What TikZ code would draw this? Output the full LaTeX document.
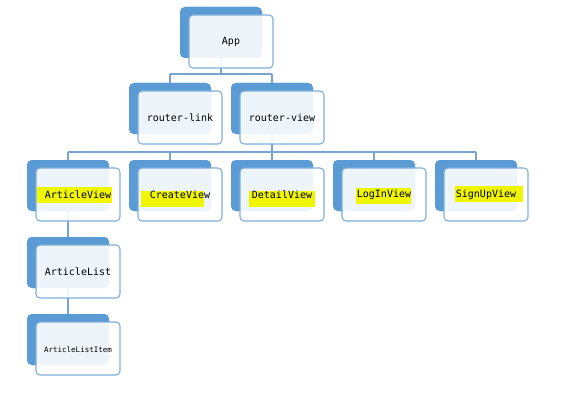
\documentclass[tikz,border=0pt]{standalone}
\usepackage{fontspec}
\newfontfamily\monof{DejaVu Sans Mono}
\definecolor{darkblue}{RGB}{91,155,213}
\definecolor{edgeblue}{RGB}{126,174,216}
\definecolor{lineblue}{RGB}{122,164,208}
\definecolor{hilite}{RGB}{240,245,0}
\tikzset{
  backbox/.style={draw=none, fill=darkblue, rounded corners=5pt, minimum width=82pt, minimum height=51pt, inner sep=0pt},
  frontbox/.style={draw=edgeblue, line width=1.1pt, fill=white, fill opacity=0.9, text opacity=1, rounded corners=4pt, minimum width=84pt, minimum height=53pt, inner sep=0pt, font=\monof\fontsize{10}{12}\selectfont},
  conn/.style={draw=lineblue, line width=1.2pt},
  hl/.style={fill=hilite, draw=none}
}
% #1 name, #2 left x of back box, #3 top y of back box
\newcommand\backat[3]{\node[backbox] (#1) at (#2+41,#3+25.5) {};}
\newcommand\frontat[4]{\node[frontbox] (#1) at (#2+51,#3+34.5) {#4};}
\begin{document}
\begin{tikzpicture}[x=1pt,y=-1pt]
\useasboundingbox (0,0) rectangle (564,401);
% back boxes
\backat{appd}{180}{7}
\backat{rld}{129}{83}
\backat{rvd}{231}{83}
\backat{avd}{27}{160}
\backat{cvd}{129}{160}
\backat{dvd}{231}{160}
\backat{lvd}{333}{160}
\backat{svd}{435}{160}
\backat{ald}{27}{237}
\backat{alid}{27}{314}
% connectors
\coordinate (j1) at (0,74);
\coordinate (j2) at (0,152);
\draw[conn] (appd.center) -- (appd.center |- j1);
\draw[conn] (rld.center |- j1) -- (rvd.center |- j1);
\draw[conn] (rld.center |- j1) -- (rld.center);
\draw[conn] (rvd.center |- j1) -- (rvd.center);
\draw[conn] (rvd.center) -- (rvd.center |- j2);
\draw[conn] (avd.center |- j2) -- (svd.center |- j2);
\foreach \n in {avd,cvd,dvd,lvd,svd}{\draw[conn] (\n.center |- j2) -- (\n.center);}
\draw[conn] (avd.center) -- (ald.center);
\draw[conn] (ald.center) -- (alid.center);
% redraw back boxes over connectors
\backat{appd}{180}{7}
\backat{rld}{129}{83}
\backat{rvd}{231}{83}
\backat{avd}{27}{160}
\backat{cvd}{129}{160}
\backat{dvd}{231}{160}
\backat{lvd}{333}{160}
\backat{svd}{435}{160}
\backat{ald}{27}{237}
\backat{alid}{27}{314}
% front boxes (empty first)
\frontat{app}{180}{7}{}
\frontat{rl}{129}{83}{}
\frontat{rv}{231}{83}{}
\frontat{av}{27}{160}{}
\frontat{cv}{129}{160}{}
\frontat{dv}{231}{160}{}
\frontat{lv}{333}{160}{}
\frontat{sv}{435}{160}{}
\frontat{al}{27}{237}{}
\frontat{ali}{27}{314}{}
% highlights
\fill[hl] (37,187) rectangle (112,203);
\fill[hl] (141,191) rectangle (204,207);
\fill[hl] (249,191) rectangle (315,207);
\fill[hl] (356,188) rectangle (411,204);
\fill[hl] (455,186) rectangle (523,202);
% texts
\tikzset{lbl/.style={font=\monof\fontsize{10}{12}\selectfont, inner sep=0pt}}
\node[lbl] (tapp) at (app.center) {App};
\node[lbl] (trl) at (rl.center) {router-link};
\node[lbl] (trv) at (rv.center) {router-view};
\node[lbl] (tav) at (av.center) {ArticleView};
\node[lbl] (tcv) at (cv.center) {CreateView};
\node[lbl] (tdv) at (dv.center) {DetailView};
\node[lbl] (tlv) at (lv.center) {LogInView};
\node[lbl] (tsv) at (sv.center) {SignUpView};
\node[lbl] (tal) at (al.center) {ArticleList};
\node[lbl, font=\monof\fontsize{7.5}{9}\selectfont] (tali) at ([yshift=-1pt]ali.center) {ArticleListItem};
\end{tikzpicture}
\end{document}
